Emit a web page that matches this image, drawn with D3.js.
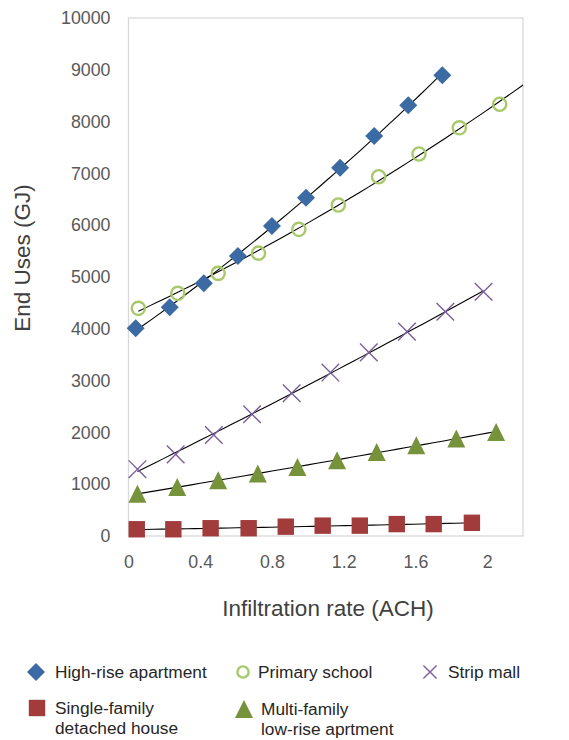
<!DOCTYPE html>
<html>
<head>
<meta charset="utf-8">
<script src="https://cdn.jsdelivr.net/npm/d3@7"></script>
<style>
  body { margin: 0; background: #fff; }
  svg text { font-family: Arial, "Liberation Sans", sans-serif; }
</style>
</head>
<body>
<svg id="chart" width="569" height="740"></svg>
<script>
// values
let highRiseX = [0.04, 0.23, 0.42, 0.61, 0.80, 0.99, 1.18, 1.37, 1.56, 1.75];
let highRiseY = [4010, 4415, 4880, 5405, 5985, 6530, 7110, 7720, 8315, 8895];

let schoolX = [0.055, 0.275, 0.50, 0.725, 0.95, 1.17, 1.395, 1.62, 1.845, 2.07];
let schoolY = [4395, 4685, 5070, 5460, 5920, 6390, 6935, 7375, 7880, 8335];

let mallX = [0.05, 0.263, 0.476, 0.689, 0.91, 1.126, 1.34, 1.553, 1.767, 1.98];
let mallY = [1290, 1575, 1950, 2350, 2755, 3155, 3545, 3945, 4330, 4715];

let singleX = [0.046, 0.25, 0.458, 0.67, 0.877, 1.083, 1.29, 1.496, 1.702, 1.915];
let singleY = [130, 130, 150, 150, 180, 200, 200, 230, 230, 255];

let multiX = [0.05, 0.272, 0.50, 0.721, 0.942, 1.163, 1.384, 1.605, 1.828, 2.05];
let multiY = [815, 945, 1075, 1205, 1330, 1460, 1620, 1750, 1880, 2010];

let xTicks = [0, 0.4, 0.8, 1.2, 1.6, 2];
let yTicks = [0, 1000, 2000, 3000, 4000, 5000, 6000, 7000, 8000, 9000, 10000];

let series = [
  {name: "High-rise apartment", xs: highRiseX, ys: highRiseY, shape: "diamond", color: "#3c6aa3", trendTo: null},
  {name: "Primary school", xs: schoolX, ys: schoolY, shape: "circle", color: "#a8c96b", trendTo: 2.2},
  {name: "Strip mall", xs: mallX, ys: mallY, shape: "cross", color: "#7a5f9c", trendTo: null},
  {name: "Single-family detached house", xs: singleX, ys: singleY, shape: "square", color: "#a23b3b", trendTo: null},
  {name: "Multi-family low-rise aprtment", xs: multiX, ys: multiY, shape: "triangle", color: "#76933c", trendTo: null}
];

let svg = d3.select("#chart");
let plotLeft = 128.5, plotRight = 523, plotTop = 18, plotBottom = 536;

let xscale = d3.scaleLinear().domain([0, 2.2]).range([plotLeft, plotRight]);
let yscale = d3.scaleLinear().domain([0, 10000]).range([plotBottom, plotTop]);

// plot border
svg.append("rect")
   .attr("x", plotLeft).attr("y", plotTop)
   .attr("width", plotRight - plotLeft).attr("height", plotBottom - plotTop)
   .attr("fill", "none").attr("stroke", "#d9d9d9").attr("stroke-width", 1.3);

// y axis labels
let yAxis = d3.axisLeft(yscale).tickValues(yTicks).tickSize(0).tickPadding(18).tickFormat(d3.format("d"));
svg.append("g").attr("transform", `translate(${plotLeft},0)`).call(yAxis)
   .call(g => g.select(".domain").remove())
   .selectAll("text").attr("font-size", 17.8).attr("fill", "#595959")
   .attr("font-family", "Arial, 'Liberation Sans', sans-serif");

// x axis labels
let xAxis = d3.axisBottom(xscale).tickValues(xTicks).tickSize(0).tickPadding(19).tickFormat(d => d);
svg.append("g").attr("transform", `translate(0,${plotBottom})`).call(xAxis)
   .call(g => g.select(".domain").remove())
   .selectAll("text").attr("font-size", 17.8).attr("fill", "#595959")
   .attr("font-family", "Arial, 'Liberation Sans', sans-serif");

// axis titles
svg.append("text")
   .attr("transform", "translate(30,258) rotate(-90)")
   .attr("text-anchor", "middle")
   .attr("font-size", 22.5).attr("fill", "#404040")
   .text("End Uses (GJ)");
svg.append("text")
   .attr("x", 328).attr("y", 616)
   .attr("text-anchor", "middle")
   .attr("font-size", 22.5).attr("fill", "#404040")
   .text("Infiltration rate (ACH)");

// quadratic least squares trendline, like the spreadsheet one
function polyFit(xs, ys){
  let n = xs.length;
  let s = [0,0,0,0,0], t = [0,0,0];
  for(let i = 0; i < n; i++){
    let x = xs[i], y = ys[i];
    for(let k = 0; k < 5; k++) s[k] += Math.pow(x, k);
    for(let k = 0; k < 3; k++) t[k] += y * Math.pow(x, k);
  }
  let m = [[s[0], s[1], s[2], t[0]], [s[1], s[2], s[3], t[1]], [s[2], s[3], s[4], t[2]]];
  for(let i = 0; i < 3; i++){
    for(let j = i + 1; j < 3; j++){
      let f = m[j][i] / m[i][i];
      for(let k = i; k < 4; k++) m[j][k] -= f * m[i][k];
    }
  }
  let c = [0,0,0];
  for(let i = 2; i >= 0; i--){
    let v = m[i][3];
    for(let k = i + 1; k < 3; k++) v -= m[i][k] * c[k];
    c[i] = v / m[i][i];
  }
  return x => c[0] + c[1] * x + c[2] * x * x;
}

let lines = svg.append("g");
let dline = d3.line().x(d => xscale(d[0])).y(d => yscale(d[1]));
series.forEach(s => {
  let f = polyFit(s.xs, s.ys);
  let x0 = s.xs[0];
  let x1 = s.trendTo || s.xs[s.xs.length - 1];
  let pts = d3.range(0, 41).map(i => {
    let x = x0 + (x1 - x0) * i / 40;
    return [x, f(x)];
  });
  lines.append("path")
       .datum(pts)
       .attr("fill", "none")
       .attr("stroke", "black")
       .attr("stroke-width", 1.1)
       .attr("d", dline);
});

// markers
function drawMarker(g, shape, color, cx, cy, scale){
  scale = scale || 1;
  if(shape == "diamond"){
    let r = 9 * scale;
    g.append("path").attr("d", `M${cx},${cy - r}L${cx + r},${cy}L${cx},${cy + r}L${cx - r},${cy}Z`)
     .attr("fill", color);
  } else if(shape == "circle"){
    g.append("circle").attr("cx", cx).attr("cy", cy).attr("r", 6.6 * scale)
     .attr("fill", "none").attr("stroke", color).attr("stroke-width", 2.4);
  } else if(shape == "cross"){
    let r = 8.8 * scale;
    g.append("path").attr("d", `M${cx - r},${cy - r}L${cx + r},${cy + r}M${cx - r},${cy + r}L${cx + r},${cy - r}`)
     .attr("stroke", color).attr("stroke-width", 1.4).attr("fill", "none");
  } else if(shape == "square"){
    let r = 8.2 * scale;
    g.append("rect").attr("x", cx - r).attr("y", cy - r).attr("width", 2 * r).attr("height", 2 * r)
     .attr("fill", color);
  } else if(shape == "triangle"){
    let r = 9 * scale;
    g.append("path").attr("d", `M${cx},${cy - r}L${cx + r},${cy + r}L${cx - r},${cy + r}Z`)
     .attr("fill", color);
  }
}

let markers = svg.append("g");
series.forEach(s => {
  s.xs.forEach((x, i) => {
    drawMarker(markers, s.shape, s.color, xscale(x), yscale(s.ys[i]));
  });
});

// legend
let legendItems = [
  {s: series[0], x: 36, y: 672, tx: 55, lines: ["High-rise apartment"]},
  {s: series[1], x: 243, y: 672, tx: 258, lines: ["Primary school"]},
  {s: series[2], x: 430, y: 672, tx: 448, lines: ["Strip mall"]},
  {s: series[3], x: 37, y: 708, tx: 55, lines: ["Single-family", "detached house"]},
  {s: series[4], x: 244, y: 709, tx: 261, lines: ["Multi-family", "low-rise aprtment"]}
];
let legend = svg.append("g");
legendItems.forEach(d => {
  let sc = d.s.shape == "circle" ? 0.85 : (d.s.shape == "cross" ? 0.75 : 1);
  drawMarker(legend, d.s.shape, d.s.color, d.x, d.y, sc);
  let t = legend.append("text").attr("x", d.tx).attr("y", d.y + 6)
               .attr("font-size", 17.3).attr("fill", "#262626");
  d.lines.forEach((l, i) => {
    t.append("tspan").attr("x", d.tx).attr("dy", i == 0 ? 0 : 20).text(l);
  });
});
</script>
</body>
</html>
